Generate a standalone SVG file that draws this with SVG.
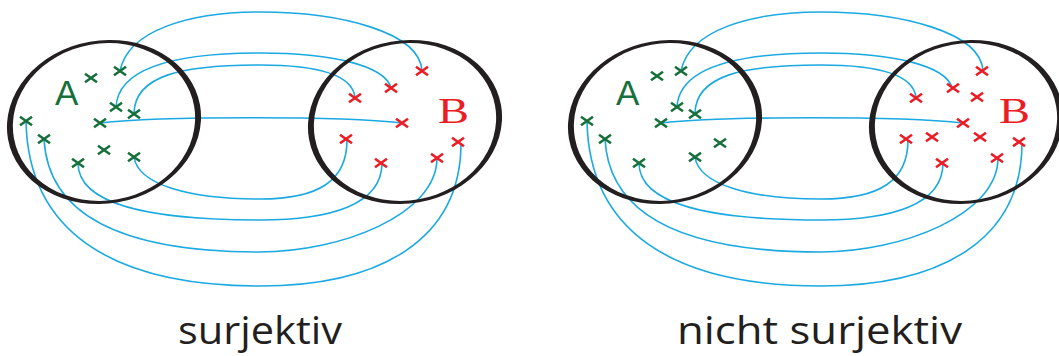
<svg xmlns="http://www.w3.org/2000/svg" xmlns:xlink="http://www.w3.org/1999/xlink" width="1059" height="356" viewBox="0 0 1059 356">
<style>
.ring{fill:#231f20;fill-rule:evenodd}
.gx{stroke:#17703c;stroke-width:2.6;fill:none;stroke-linecap:butt}
.rx{stroke:#ec1c24;stroke-width:2.6;fill:none;stroke-linecap:butt}
.link{stroke:#1ba9e1;stroke-width:1.6;fill:none}
.la{font-family:"Liberation Sans",Arial,sans-serif;font-size:35px;fill:#17703c}
.lb{font-family:"Liberation Serif","Times New Roman",serif;font-size:36px;fill:#ec1c24}
.cap{font-family:"Open Sans","Noto Sans",sans-serif;font-size:39px;fill:#231f20;text-anchor:middle}
</style>
<defs>
<path id="x" d="M-6,-4.3 L6,4.3 M-6,4.3 L6,-4.3"/>
<path id="ring" d="M-97.5,0 A97.5,81.5 0 1,0 97.5,0 A97.5,81.5 0 1,0 -97.5,0 Z M-91.5,0 A91.5,78.5 0 1,1 91.5,0 A91.5,78.5 0 1,1 -91.5,0 Z"/>
<g id="links">
<path d="M120,71 C128,30 190,12 260,12 C340,12 420,32 422,71"/>
<path d="M116,107 C118,70 170,53 260,53 C330,53 385,65 391,88"/>
<path d="M134,113 C135,76 180,65 260,65 C320,65 352,75 355,97"/>
<path d="M100,123 C160,116 340,116 402,123"/>
<path d="M134,157 C138,185 190,199 260,199 C320,199 347,180 347,140"/>
<path d="M78,163 C78,205 150,220 260,220 C330,220 382,205 382,163"/>
<path d="M44,139 C48,215 120,252 260,252 C340,252 437,215 437,158"/>
<path d="M26,121 C28,230 110,286 260,286 C380,286 461,240 461,143"/>
</g>
</defs>

<g id="connectors" class="link">
<use xlink:href="#links" href="#links"/>
<use xlink:href="#links" href="#links" transform="translate(561,0)"/>
</g>

<g id="setA-left">
<use xlink:href="#ring" href="#ring" class="ring" transform="translate(104,122) rotate(-10)"/>
<text class="la" x="55" y="105">A</text>
<g class="gx">
<use id="a1" href="#x" xlink:href="#x" x="91" y="78"/>
<use id="a2" href="#x" xlink:href="#x" x="120" y="71"/>
<use id="a3" href="#x" xlink:href="#x" x="116" y="107"/>
<use id="a4" href="#x" xlink:href="#x" x="134" y="114"/>
<use id="a5" href="#x" xlink:href="#x" x="100" y="123"/>
<use id="a6" href="#x" xlink:href="#x" x="26" y="121"/>
<use id="a7" href="#x" xlink:href="#x" x="44" y="139"/>
<use id="a8" href="#x" xlink:href="#x" x="104" y="150"/>
<use id="a9" href="#x" xlink:href="#x" x="78" y="163"/>
<use id="a10" href="#x" xlink:href="#x" x="134" y="157"/>
</g>
</g>

<g id="setB-left">
<use xlink:href="#ring" href="#ring" class="ring" transform="translate(405,122) rotate(-10)"/>
<text class="lb" x="438" y="123" textLength="31" lengthAdjust="spacingAndGlyphs">B</text>
<g class="rx">
<use id="b1" href="#x" xlink:href="#x" x="422" y="71"/>
<use id="b2" href="#x" xlink:href="#x" x="391" y="88"/>
<use id="b3" href="#x" xlink:href="#x" x="355" y="98"/>
<use id="b4" href="#x" xlink:href="#x" x="402" y="123"/>
<use id="b5" href="#x" xlink:href="#x" x="346" y="139"/>
<use id="b6" href="#x" xlink:href="#x" x="381" y="163"/>
<use id="b7" href="#x" xlink:href="#x" x="437" y="158"/>
<use id="b8" href="#x" xlink:href="#x" x="458" y="142"/>
</g>
</g>

<g id="setA-right">
<use xlink:href="#ring" href="#ring" class="ring" transform="translate(665,122) rotate(-10)"/>
<text class="la" x="616" y="105">A</text>
<g class="gx">
<use id="c1" href="#x" xlink:href="#x" x="657" y="76"/>
<use id="c2" href="#x" xlink:href="#x" x="681" y="71"/>
<use id="c3" href="#x" xlink:href="#x" x="677" y="107"/>
<use id="c4" href="#x" xlink:href="#x" x="695" y="114"/>
<use id="c5" href="#x" xlink:href="#x" x="661" y="123"/>
<use id="c6" href="#x" xlink:href="#x" x="587" y="121"/>
<use id="c7" href="#x" xlink:href="#x" x="605" y="139"/>
<use id="c8" href="#x" xlink:href="#x" x="720" y="143"/>
<use id="c9" href="#x" xlink:href="#x" x="639" y="163"/>
<use id="c10" href="#x" xlink:href="#x" x="695" y="157"/>
</g>
</g>

<g id="setB-right">
<use xlink:href="#ring" href="#ring" class="ring" transform="translate(966,122) rotate(-10)"/>
<text class="lb" x="999" y="123" textLength="31" lengthAdjust="spacingAndGlyphs">B</text>
<g class="rx">
<use id="d1" href="#x" xlink:href="#x" x="982" y="71"/>
<use id="d2" href="#x" xlink:href="#x" x="953" y="88"/>
<use id="d3" href="#x" xlink:href="#x" x="977" y="97"/>
<use id="d4" href="#x" xlink:href="#x" x="916" y="98"/>
<use id="d5" href="#x" xlink:href="#x" x="963" y="123"/>
<use id="d6" href="#x" xlink:href="#x" x="906" y="139"/>
<use id="d7" href="#x" xlink:href="#x" x="932" y="137"/>
<use id="d8" href="#x" xlink:href="#x" x="980" y="137"/>
<use id="d9" href="#x" xlink:href="#x" x="942" y="163"/>
<use id="d10" href="#x" xlink:href="#x" x="997" y="158"/>
<use id="d11" href="#x" xlink:href="#x" x="1019" y="142"/>
</g>
</g>

<g id="captions">
<text class="cap" x="260" y="344" textLength="164" lengthAdjust="spacingAndGlyphs">surjektiv</text>
<text class="cap" x="819.5" y="344" textLength="285" lengthAdjust="spacingAndGlyphs">nicht surjektiv</text>
</g>
</svg>
